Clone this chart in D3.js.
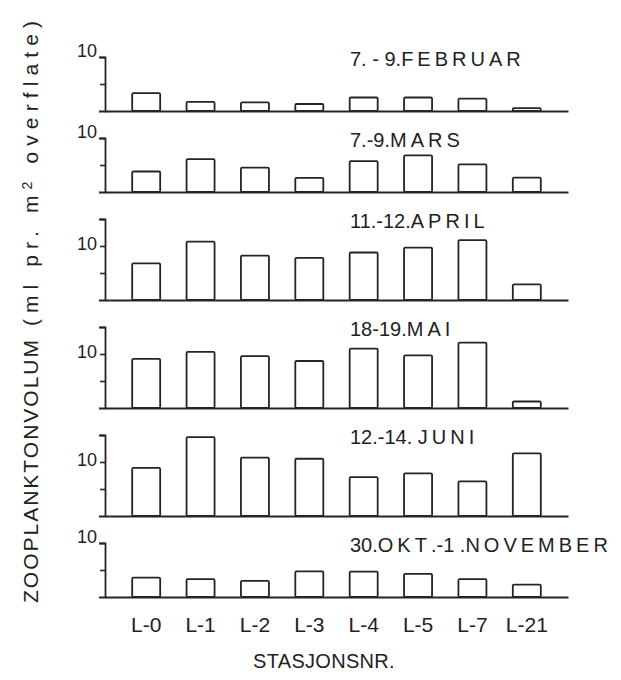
<!DOCTYPE html>
<html>
<head>
<meta charset="utf-8">
<script src="https://cdn.jsdelivr.net/npm/d3@7"></script>
<style>
  body { margin: 0; background: #fff; }
  svg text { font-family: "Liberation Sans", Arial, sans-serif; fill: #222; }
</style>
</head>
<body>
<svg id="chart" width="621" height="680"></svg>
<script>
// Stations along the x axis
const stations = ["L-0", "L-1", "L-2", "L-3", "L-4", "L-5", "L-7", "L-21"];

// Sampling periods, one panel each (top to bottom)
const periodTitles = [
  "7. - 9.FEBRUAR",
  "7.-9.MARS",
  "11.-12.APRIL",
  "18-19.MAI",
  "12.-14. JUNI",
  "30.OKT.-1 .NOVEMBER"
];

// Zooplankton volume (ml pr. m2 surface) per station
const februar  = [3.3, 1.7, 1.6, 1.3, 2.5, 2.5, 2.3, 0.55];
const mars     = [3.8, 6.1, 4.5, 2.6, 5.7, 6.8, 5.1, 2.65];
const april    = [6.8, 10.8, 8.2, 7.8, 8.8, 9.7, 11.1, 2.9];
const mai      = [9.1, 10.4, 9.6, 8.7, 11.0, 9.75, 12.1, 1.2];
const juni     = [8.9, 14.6, 10.8, 10.6, 7.2, 7.9, 6.4, 11.6];
const november = [3.6, 3.3, 3.0, 4.75, 4.7, 4.3, 3.3, 2.3];

const panelSeries = [februar, mars, april, mai, juni, november];

// Upper end of each panel's value axis
const axisMax = [10, 10, 15, 15, 15, 10];
// Tick marks on the value axes; only 10 carries a label
const tickValues = [5, 10, 15];
const labelledTick = 10;

const yTitle = "ZOOPLANKTONVOLUM (ml pr. m² overflate)";
const xTitle = "STASJONSNR.";

// ---- layout ----
const ink = "#242424";
const pxPerUnit = 5.4;
const firstTop = 57;
const panelGap = 27;
const xLeft = 105, xRight = 568;

const svg = d3.select("#chart");

const x = d3.scaleBand()
  .domain(stations)
  .range([xLeft, xRight])
  .paddingInner(0.485)
  .paddingOuter(0.5);

// Write text as runs of tspans so letters and figures can be spaced differently
function spacedText(textSel, str, spacingFor) {
  const runs = [];
  for (const ch of str) {
    const sup = ch === "²";
    const s = spacingFor(ch);
    const last = runs[runs.length - 1];
    if (last && !sup && !last.sup && last.s === s) last.t += ch;
    else runs.push({ t: sup ? "2" : ch, s, sup });
  }
  let raised = false;
  runs.forEach(r => {
    const ts = textSel.append("tspan").text(r.t).style("letter-spacing", r.s + "px");
    if (r.sup) {
      ts.attr("font-size", "0.68em").attr("dy", "-0.42em");
      raised = true;
    } else if (raised) {
      ts.attr("dy", "0.29em");
      raised = false;
    }
  });
}

let panelTop = firstTop;
panelSeries.forEach((values, i) => {
  const h = axisMax[i] * pxPerUnit;
  const base = panelTop + h;
  const y = d3.scaleLinear().domain([0, axisMax[i]]).range([base, panelTop]);
  const g = svg.append("g").attr("class", "panel");

  // bars
  g.selectAll("rect.bar")
    .data(values)
    .join("rect")
    .attr("class", "bar")
    .attr("x", (d, j) => x(stations[j]))
    .attr("width", x.bandwidth())
    .attr("y", d => y(d))
    .attr("height", d => base - y(d))
    .attr("rx", 1.2)
    .attr("fill", "#fff")
    .attr("stroke", ink)
    .attr("stroke-width", 1.8);

  // value axis
  const yAxis = d3.axisLeft(y)
    .tickValues(tickValues.filter(t => t <= axisMax[i]))
    .tickSize(5)
    .tickSizeOuter(6)
    .tickPadding(3)
    .tickFormat(t => t === labelledTick ? String(t) : "");
  const ya = g.append("g").attr("transform", `translate(${xLeft},0)`).call(yAxis);
  ya.select(".domain").attr("stroke", ink).attr("stroke-width", 1.8);
  ya.selectAll(".tick line").attr("stroke", ink).attr("stroke-width", 1.6);
  // a label on the axis end sits a little above it
  ya.selectAll(".tick text")
    .attr("font-size", 18)
    .attr("font-family", "Liberation Sans, Arial, sans-serif")
    .attr("fill", ink)
    .attr("y", t => t === axisMax[i] ? -6 : -2);

  // station axis / baseline
  const last = i === panelSeries.length - 1;
  const xAxis = d3.axisBottom(x)
    .tickSize(0)
    .tickSizeOuter(0)
    .tickPadding(20)
    .tickFormat(d => last ? d : "");
  const xa = g.append("g").attr("transform", `translate(0,${base})`).call(xAxis);
  xa.select(".domain").attr("stroke", ink).attr("stroke-width", 1.8);
  xa.selectAll(".tick text")
    .attr("font-size", 21)
    .attr("font-family", "Liberation Sans, Arial, sans-serif")
    .attr("fill", ink);

  // period title
  const t = g.append("text")
    .attr("x", 350)
    .attr("y", panelTop + 9)
    .attr("font-size", 20);
  spacedText(t, periodTitles[i], ch => /[A-ZÆØÅ]/.test(ch) ? 4 : 0);

  panelTop = base + panelGap;
});

// axis titles
const yt = svg.append("text")
  .attr("transform", "translate(38,603) rotate(-90)")
  .attr("font-size", 21);
spacedText(yt, yTitle, ch => /[A-Z]/.test(ch) ? 2 : 6.1);

const xt = svg.append("text")
  .attr("x", 324)
  .attr("y", 668)
  .attr("text-anchor", "middle")
  .attr("font-size", 20);
spacedText(xt, xTitle, () => 0.3);
</script>
</body>
</html>
